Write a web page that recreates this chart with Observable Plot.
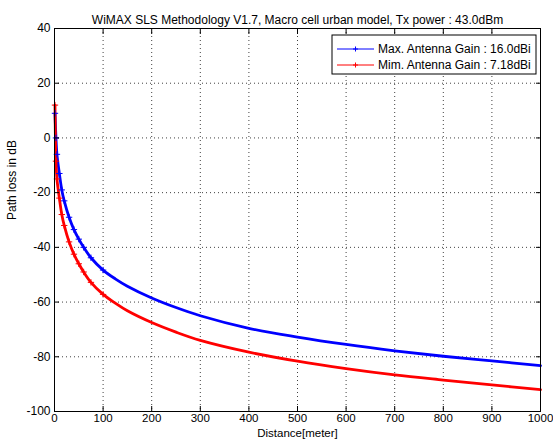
<!DOCTYPE html>
<html>
<head>
<meta charset="utf-8">
<script src="https://cdn.jsdelivr.net/npm/d3@7"></script>
<script src="https://cdn.jsdelivr.net/npm/@observablehq/plot@0.6"></script>
<style>
  html, body { margin: 0; padding: 0; background: white; }
</style>
</head>
<body>
<div id="chart"></div>
<script>
const chartTitle = "WiMAX SLS Methodology V1.7, Macro cell urban model, Tx power : 43.0dBm";
const xLabel = "Distance[meter]";
const yLabel = "Path loss in dB";

const distance = [1, 3, 5, 10, 15, 20, 30, 40, 50, 60, 75, 100, 125, 150, 200, 250, 300, 400, 500, 600, 700, 800, 900, 1000];
const maxGainLoss = [9, 0, -6, -13, -19, -23, -29, -33.5, -37, -40, -43.8, -48.3, -51.5, -54.2, -58.5, -62, -65, -69.6, -72.8, -75.5, -77.8, -79.8, -81.5, -83.2];
const minGainLoss = [12, -8.5, -15, -22, -28, -32, -38, -42.5, -46, -49, -52.8, -57.2, -60.4, -63.2, -67.5, -71, -74, -78.3, -81.6, -84.3, -86.6, -88.5, -90.3, -92];

const seriesNames = ["Max. Antenna Gain : 16.0dBi", "Mim. Antenna Gain : 7.18dBi"];
const seriesColors = ["#0000ff", "#ff0000"];

const xTicks = [0, 100, 200, 300, 400, 500, 600, 700, 800, 900, 1000];
const yTicks = [-100, -80, -60, -40, -20, 0, 20, 40];

const rows = [];
distance.forEach((d, i) => rows.push({distance: d, value: maxGainLoss[i], series: seriesNames[0]}));
distance.forEach((d, i) => rows.push({distance: d, value: minGainLoss[i], series: seriesNames[1]}));

const font = "'Liberation Sans', Arial, sans-serif";
const gridStyle = {stroke: "black", strokeOpacity: 0.75, strokeDasharray: "1,3", strokeWidth: 1};

const chart = Plot.plot({
  width: 553,
  height: 444,
  marginLeft: 54,
  marginRight: 13,
  marginTop: 28,
  marginBottom: 33,
  style: {fontFamily: font, fontSize: "12px", background: "white", color: "black"},
  x: {domain: [0, 1000]},
  y: {domain: [-100, 40]},
  color: {domain: seriesNames, range: seriesColors},
  marks: [
    Plot.gridX(xTicks, gridStyle),
    Plot.gridY(yTicks, gridStyle),
    Plot.line(rows, {x: "distance", y: "value", z: "series", stroke: "series", curve: "catmull-rom", strokeWidth: 2.8}),
    Plot.dot(rows.filter(r => r.distance <= 100), {x: "distance", y: "value", stroke: "series", symbol: "plus", r: 2.2, strokeWidth: 1}),
    Plot.frame({stroke: "black", strokeWidth: 1}),
    Plot.axisX(xTicks, {anchor: "bottom", tickSize: -5, tickPadding: 7, tickFormat: d => String(d), label: null, fontSize: 11.5}),
    Plot.axisX(xTicks, {anchor: "top", tickSize: -5, tickFormat: () => "", label: null}),
    Plot.axisY(yTicks, {anchor: "left", tickSize: -5, tickPadding: 9, tickFormat: d => String(d), label: null, fontSize: 12}),
    Plot.axisY(yTicks, {anchor: "right", tickSize: -5, tickFormat: () => "", label: null}),
    Plot.text([xLabel], {frameAnchor: "bottom", dy: 25, fontSize: 11.5}),
    Plot.text([yLabel], {frameAnchor: "left", dx: -42, rotate: -90, fontSize: 12}),
    Plot.text([chartTitle], {frameAnchor: "top", dy: -13, fontSize: 12})
  ]
});

document.getElementById("chart").appendChild(chart);

// Legend box (top-right inside the plot frame)
const svg = d3.select(chart);
const lg = svg.append("g")
  .attr("font-family", font)
  .attr("font-size", 12)
  .attr("text-anchor", "start");
lg.append("rect")
  .attr("x", 332).attr("y", 35).attr("width", 204).attr("height", 39)
  .attr("fill", "white").attr("stroke", "black").attr("stroke-width", 1);
seriesNames.forEach((name, i) => {
  const y = 49 + i * 16;
  lg.append("line").attr("x1", 337).attr("x2", 374).attr("y1", y).attr("y2", y)
    .attr("stroke", seriesColors[i]).attr("stroke-width", 1);
  lg.append("path").attr("d", `M${355.5 - 2.5},${y}h5M355.5,${y - 2.5}v5`)
    .attr("stroke", seriesColors[i]).attr("stroke-width", 1).attr("fill", "none");
  lg.append("text").attr("x", 378).attr("y", y).attr("dy", "0.35em")
    .attr("text-anchor", "start").attr("fill", "black").text(name);
});
</script>
</body>
</html>
